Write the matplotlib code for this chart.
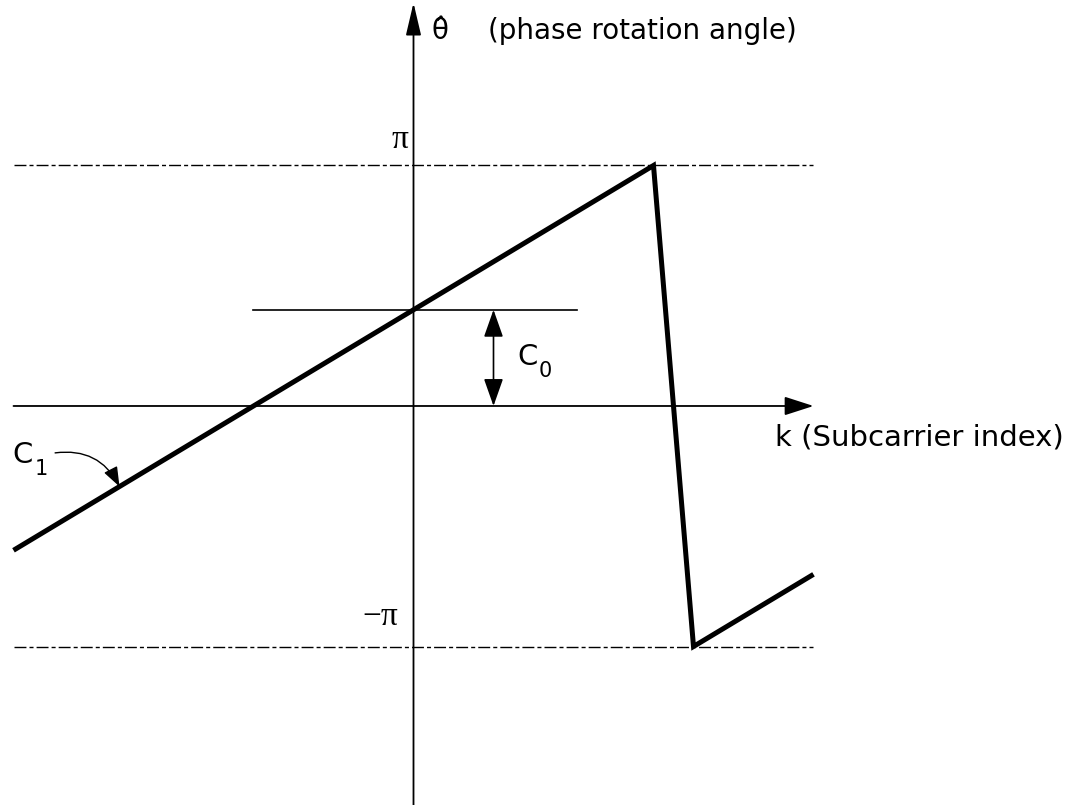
import numpy as np
import matplotlib.pyplot as plt
from matplotlib.patches import FancyArrowPatch

# phase rotation vs subcarrier index (theta in units of pi)
k_knots = [-10, 6, 7, 10]
theta_knots = [-0.6, 1.0, -1.0, -0.7]
c0 = 0.4
k_span = [-10, 10]
pi_levels = [1.0, -1.0]
c0_ref_span = [-4, 4.1]
c0_arrow_k = 2.0

fig = plt.figure(figsize=(10.78, 8.05), dpi=100)
ax = fig.add_axes([0, 0, 1, 1])
ax.set_xlim(-10.3375, 16.6125)
ax.set_ylim(-1.659, 1.688)
ax.axis('off')


def arrow(p0, p1, style, lw=1.3, **kw):
    ax.add_patch(FancyArrowPatch(p0, p1, arrowstyle=style, mutation_scale=1,
                                 shrinkA=0, shrinkB=0, color='black', lw=lw, **kw))


# axes with arrow heads
arrow((0, -1.66), (0, 1.676), '-|>,head_length=20,head_width=4.7')
arrow((k_span[0], 0), (k_span[1], 0), '-|>,head_length=18,head_width=5.8')

# +pi / -pi levels
for lvl in pi_levels:
    ax.plot(k_span, [lvl, lvl], color='black', lw=1.0, dashes=(8.6, 2.2, 2.9, 2.2))

# wrapped phase line
ax.plot(k_knots, theta_knots, color='black', lw=3.6,
        solid_joinstyle='miter', solid_capstyle='butt')

# C0 offset marker
ax.plot(c0_ref_span, [c0, c0], color='black', lw=1.2)
arrow((c0_arrow_k, 0), (c0_arrow_k, c0), '<|-|>,head_length=17,head_width=6', lw=1.2)
ax.text(2.59, 0.170, 'C', fontsize=21, ha='left', va='baseline')
ax.text(3.13, 0.121, '0', fontsize=15, ha='left', va='baseline')

# C1 slope marker
arrow((-8.96, -0.195), (-7.35, 0.4 + 0.1 * -7.35), '-|>,head_length=12,head_width=4.5',
      lw=1.0, connectionstyle='arc3,rad=-0.35')
ax.text(-10.04, -0.237, 'C', fontsize=21, ha='left', va='baseline')
ax.text(-9.46, -0.287, '1', fontsize=15, ha='left', va='baseline')

# labels
ax.text(0.46, 1.526, '\u03b8\u0302', fontsize=20, ha='left', va='baseline')
ax.text(1.86, 1.526, '(phase rotation angle)', fontsize=20, ha='left', va='baseline')
ax.text(9.04, -0.165, 'k (Subcarrier index)', fontsize=21, ha='left', va='baseline')
ax.text(-0.12, 1.073, '\u03c0', fontsize=24, family='Liberation Serif', ha='right', va='baseline')
ax.text(-0.39, -0.911, '\u2212\u03c0', fontsize=24, family='Liberation Serif', ha='right', va='baseline')

fig.savefig('out.png', dpi=100)
